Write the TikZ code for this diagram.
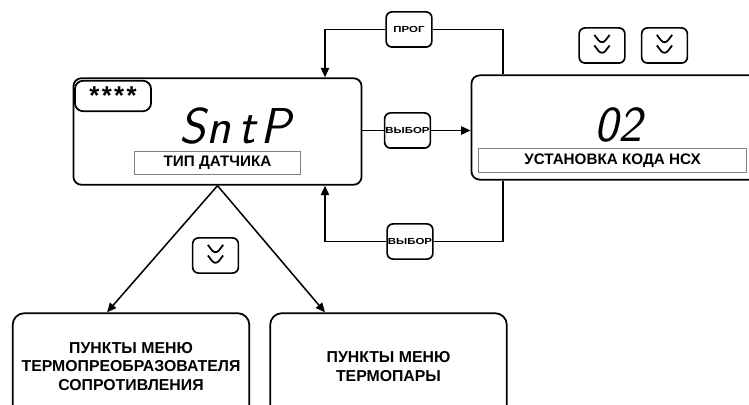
\documentclass[tikz,border=0pt]{standalone}
\usepackage{fontspec}
\setmainfont{Liberation Sans}
\newfontfamily\keyfont[FakeStretch=1.3]{Liberation Sans}
\usetikzlibrary{arrows.meta,positioning}

\begin{document}
\begin{tikzpicture}[x=0.03cm, y=-0.03cm, >={Triangle[length=8pt,width=7pt]},
    line width=1.3pt,
    display/.style={draw, rounded corners=7pt, line width=1.5pt, inner sep=0pt},
    bar/.style={draw=gray, line width=0.6pt, inner sep=0pt, font=\bfseries\fontsize{13}{15}\selectfont},
    key/.style={draw, rounded corners=5pt, line width=1.4pt, inner sep=0pt,
      minimum width=39pt, minimum height=30pt, font=\keyfont\bfseries\fontsize{7.5}{8}\selectfont},
    dbl/.style={key, path picture={
        \draw[line width=1.5pt, line join=miter]
          ([shift={(-6.5pt,9pt)}]path picture bounding box.center) --
          ([shift={(0pt,0.5pt)}]path picture bounding box.center) --
          ([shift={(6.5pt,9pt)}]path picture bounding box.center);
        \draw[line width=1.5pt, line join=miter]
          ([shift={(-6.5pt,0pt)}]path picture bounding box.center) --
          ([shift={(0pt,-8.5pt)}]path picture bounding box.center) --
          ([shift={(6.5pt,0pt)}]path picture bounding box.center);}},
    menu/.style={draw, rounded corners=10pt, line width=1.5pt, align=center,
      minimum width=202pt, minimum height=91pt, font=\bfseries\fontsize{13.5}{15.5}\selectfont},
    seg/.style={font=\sffamily\itshape\fontsize{43}{43}\selectfont, inner sep=0pt}]
  \useasboundingbox (0,0) rectangle (749,405);
  \clip (0,0) rectangle (749,405);

  % display: sensor type
  \node[display, minimum width=246pt, minimum height=91pt] (sntp) at (217.5,131.5) {};
  \node[display, minimum width=65pt, minimum height=26pt, font=\bfseries\fontsize{22}{22}\selectfont] (pass) at (113,96) {*\kern2pt*\kern2pt*\kern2pt*};
  \node[seg] (sntpval) at (235,126) {S\kern1pt n\kern6pt t\kern4pt P};
  \node[bar, minimum width=142pt, minimum height=20pt] (sntplbl) at (217.5,163) {ТИП ДАТЧИКА};

  % display: code
  \node[display, minimum width=280pt, minimum height=89pt] (nsx) at (635.5,127.5) {};
  \node[seg] (nsxval) at (618,125) {02};
  \node[bar, minimum width=229pt, minimum height=20pt] (nsxlbl) at (612.5,160.5) {УСТАНОВКА КОДА НСХ};

  % keys
  \node[key] (prog) at (409,29.5) {ПРОГ};
  \node[key] (sel1) at (407.5,130.5) {ВЫБОР};
  \node[key] (sel2) at (410,241.5) {ВЫБОР};
  \node[dbl] (dn1) at (602,45.5) {};
  \node[dbl] (dn2) at (664.5,45.5) {};
  \node[dbl] (dn3) at (215.5,255.5) {};

  % menus
  \node[menu] (rtd) at (131,366.5) {ПУНКТЫ МЕНЮ\\ТЕРМОПРЕОБРАЗОВАТЕЛЯ\\СОПРОТИВЛЕНИЯ};
  \node[menu] (tc) at (388.5,366.5) {ПУНКТЫ МЕНЮ\\ТЕРМОПАРЫ};

  \coordinate (lft) at (325,0);
  \coordinate (rgt) at (503,0);

  \draw (sntp.east |- sel1.west) -- (sel1.west);
  \draw[->] (sel1.east) -- (sel1.east -| nsx.west);
  \draw[->] (prog.west) -| (lft |- sntp.north);
  \draw (prog.east) -| (rgt |- nsx.north);
  \draw[->] (sel2.west) -| (lft |- sntp.south);
  \draw (sel2.east) -| (rgt |- nsx.south);
  \draw[->] (sntp.south) -- (rtd.north -| 107,0);
  \draw[->] (sntp.south) -- (tc.north -| 325,0);
\end{tikzpicture}
\end{document}
